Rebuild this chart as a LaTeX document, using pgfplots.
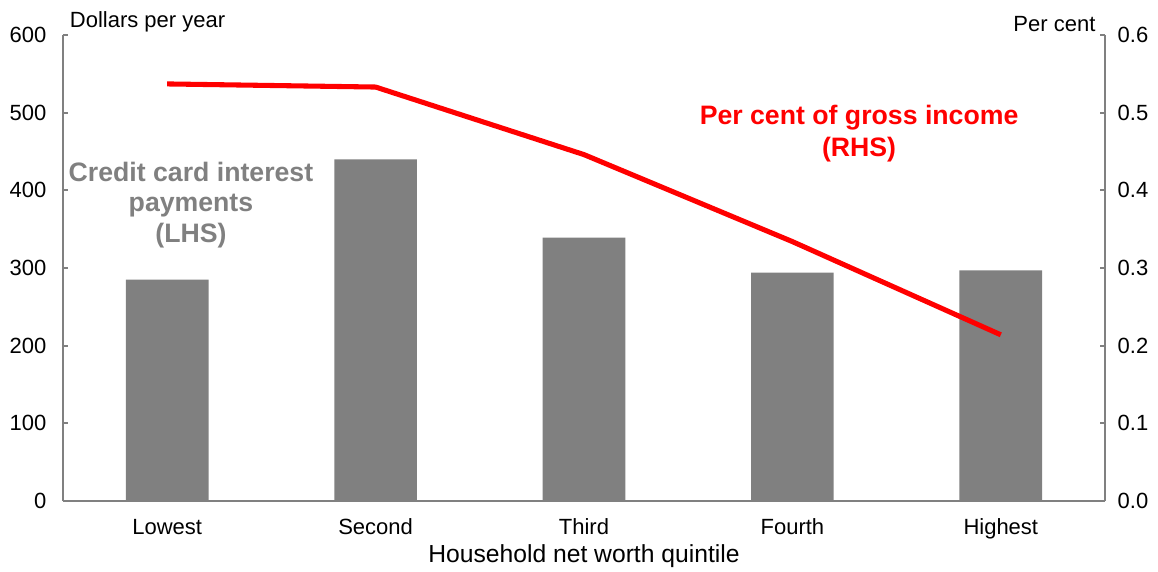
\documentclass[border=0pt]{standalone}
\usepackage{pgfplots}
\pgfplotsset{compat=1.18}
\usepackage{fontspec}
\setmainfont{Liberation Sans}
\definecolor{rbagrey}{HTML}{808080}
\definecolor{rbared}{HTML}{FF0000}
\begin{document}
\begin{tikzpicture}
\pgfplotsset{
  every axis/.append style={
    width=781.5pt, height=349.5pt, scale only axis,
    xmin=-0.5, xmax=4.5,
    axis line style={rbagrey, line width=1.8pt},
    tick style={rbagrey, line width=1.5pt},
    tick align=inside,
    major tick length=4pt,
    tick label style={font=\fontsize{16.5}{18}\selectfont},
    /pgf/number format/assume math mode=true,
  }
}
% bars, left axis
\begin{axis}[
  axis x line*=bottom, axis y line*=left,
  ymin=0, ymax=600, ytick={0,100,...,600},
  xtick={0,1,2,3,4},
  xticklabels={Lowest,Second,Third,Fourth,Highest},
  x tick style={draw=none},
  extra x ticks={0.5,1.5,2.5,3.5},
  extra x tick labels={},
  extra x tick style={tick style={rbagrey, line width=1.5pt}, major tick length=5pt},
  xticklabel style={yshift=-10pt},
  yticklabel style={xshift=-9pt},
  xlabel={Household net worth quintile},
  xlabel style={font=\fontsize{18.5}{20}\selectfont, at={(rel axis cs:0.5,0)}, anchor=north, yshift=-29pt},
  clip=false,
]
\addplot[ybar, bar width=62pt, fill=rbagrey, draw=none] coordinates {
  (0,285) (1,440) (2,339) (3,294) (4,297)
};
\node[font=\fontsize{16.5}{18}\selectfont, anchor=south west, inner sep=0pt]
  at (rel axis cs:0,1) [xshift=5pt, yshift=2pt] {Dollars per year};
\node[font=\fontsize{16.5}{18}\selectfont, anchor=south east, inner sep=0pt]
  at (rel axis cs:1,1) [xshift=-7pt, yshift=2pt] {Per cent};
\node[font=\bfseries\fontsize{20}{23}\selectfont, text=rbagrey, align=center]
  at (axis cs:0.114,381) {Credit card interest\\payments\\(LHS)};
\node[font=\bfseries\fontsize{20}{24}\selectfont, text=rbared, align=center]
  at (axis cs:3.32,473) {Per cent of gross income\\(RHS)};
\path[use as bounding box] (rel axis cs:0,0) ++(-47.25pt,-47.25pt) rectangle ++(868.5pt,423pt);
\end{axis}
% line, right axis
\begin{axis}[
  axis y line*=right, axis x line=none,
  ymin=0, ymax=0.6, ytick={0,0.1,...,0.6},
  yticklabel style={xshift=6pt, /pgf/number format/.cd, fixed, fixed zerofill, precision=1},
]
\addplot[rbared, line width=3.8pt, mark=none] coordinates {
  (0,0.537) (1,0.533) (2,0.446) (3,0.334) (4,0.214)
};
\end{axis}
\end{tikzpicture}
\end{document}
